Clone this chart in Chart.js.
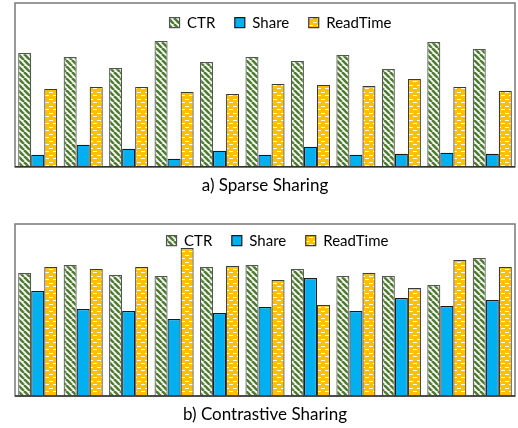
<!DOCTYPE html>
<html>
<head>
<meta charset="utf-8">
<script src="https://cdn.jsdelivr.net/npm/chart.js@4"></script>
<style>
  html, body { margin: 0; padding: 0; background: #fff; }
  .panel { position: absolute; left: 0; width: 518px; }
  #wrapA { top: 0; height: 205px; }
  #wrapB { top: 205px; height: 223px; }
</style>
</head>
<body>
<div class="panel" id="wrapA"><canvas id="chartA"></canvas></div>
<div class="panel" id="wrapB"><canvas id="chartB"></canvas></div>
<script>
const categories = ['1', '2', '3', '4', '5', '6', '7', '8', '9', '10', '11'];

// a) Sparse Sharing
const sparseCTR = [114, 110, 99, 126, 105, 110, 106, 112, 98, 125, 118];
const sparseShare = [12, 22, 18, 8, 16, 12, 20, 12, 13, 14, 13];
const sparseReadTime = [78, 80, 80, 75, 73, 83, 82, 81, 88, 80, 76];

// b) Contrastive Sharing
const contrCTR = [123, 131, 121, 120, 129, 131, 127, 120, 120, 111, 138];
const contrShare = [105, 87, 85, 77, 83, 89, 118, 85, 98, 90, 96];
const contrReadTime = [129, 127, 129, 148, 130, 116, 91, 123, 108, 136, 129];

const FONT = 'Lato, "Open Sans", sans-serif';

function stripePattern() {
    const s = 6;
    const c = document.createElement('canvas');
    c.width = s; c.height = s;
    const g = c.getContext('2d');
    g.fillStyle = '#ffffff';
    g.fillRect(0, 0, s, s);
    g.strokeStyle = '#4e7d30';
    g.lineWidth = 2.6;
    for (const a of [-s, 0, s]) {
        g.beginPath();
        g.moveTo(a, 0);
        g.lineTo(a + s, s);
        g.stroke();
    }
    return g.createPattern(c, 'repeat');
}

function dashPattern() {
    const c = document.createElement('canvas');
    c.width = 8; c.height = 7;
    const g = c.getContext('2d');
    g.fillStyle = '#ffc000';
    g.fillRect(0, 0, 8, 7);
    g.fillStyle = '#ffffff';
    g.fillRect(1, 1, 4, 1);
    g.fillRect(5, 4, 4, 1);
    g.fillRect(0, 4, 1, 1);
    return g.createPattern(c, 'repeat');
}

// box round legend + plot; legend is placed inside the box like the original
const frame = {
    id: 'frame',
    afterLayout(chart, args, opts) {
        const lg = chart.legend;
        const h = lg.bottom - lg.top;
        lg.left += opts.shift;
        lg.right += opts.shift;
        lg.top = opts.legendTop;
        lg.bottom = opts.legendTop + h;
    },
    afterDraw(chart, args, opts) {
        const a = chart.chartArea;
        const ctx = chart.ctx;
        ctx.save();
        ctx.strokeStyle = '#808080';
        ctx.lineWidth = 1.6;
        ctx.strokeRect(a.left, opts.top, a.right - a.left, a.bottom - opts.top);
        ctx.strokeStyle = '#333333';
        ctx.lineWidth = 1.4;
        ctx.beginPath();
        ctx.moveTo(a.left, a.bottom);
        ctx.lineTo(a.right, a.bottom);
        ctx.stroke();
        ctx.restore();
    }
};

function makeChart(id, ctr, share, readTime, yMax, caption, padTop, frameOpts, titlePad) {
    const stripes = stripePattern();
    const dashes = dashPattern();
    const common = { borderWidth: 1.2, categoryPercentage: 0.86, barPercentage: 1.0 };
    return new Chart(document.getElementById(id), {
        type: 'bar',
        data: {
            labels: categories,
            datasets: [
                Object.assign({ label: 'CTR', data: ctr, backgroundColor: stripes, borderColor: '#555555' }, common),
                Object.assign({ label: 'Share', data: share, backgroundColor: '#00b0f0', borderColor: '#1a1a1a' }, common),
                Object.assign({ label: 'ReadTime', data: readTime, backgroundColor: dashes, borderColor: '#3a3a3a' }, common)
            ]
        },
        options: {
            responsive: true,
            maintainAspectRatio: false,
            animation: false,
            layout: { padding: { left: 15, right: 3, top: padTop, bottom: 0 } },
            scales: {
                x: { display: false },
                y: { display: false, min: 0, max: yMax }
            },
            plugins: {
                legend: {
                    position: 'top',
                    labels: {
                        font: { family: FONT, size: 15 },
                        color: '#000',
                        boxWidth: 10,
                        boxHeight: 10,
                        padding: 19.5
                    }
                },
                title: {
                    display: true,
                    position: 'bottom',
                    text: caption,
                    color: '#000',
                    font: { family: FONT, size: 17, weight: 'normal' },
                    padding: titlePad
                },
                tooltip: { enabled: false },
                frame: frameOpts
            }
        },
        plugins: [frame]
    });
}

makeChart('chartA', sparseCTR, sparseShare, sparseReadTime, 137, 'a) Sparse Sharing',
    -14.5, { top: 3, shift: 15.5, legendTop: -4.3 }, { top: 8.5, bottom: 9.3 });
makeChart('chartB', contrCTR, contrShare, contrReadTime, 148, 'b) Contrastive Sharing',
    -1.5, { top: 19, shift: 12.5, legendTop: 8.7 }, { top: 8.5, bottom: 3.1 });
</script>
</body>
</html>
